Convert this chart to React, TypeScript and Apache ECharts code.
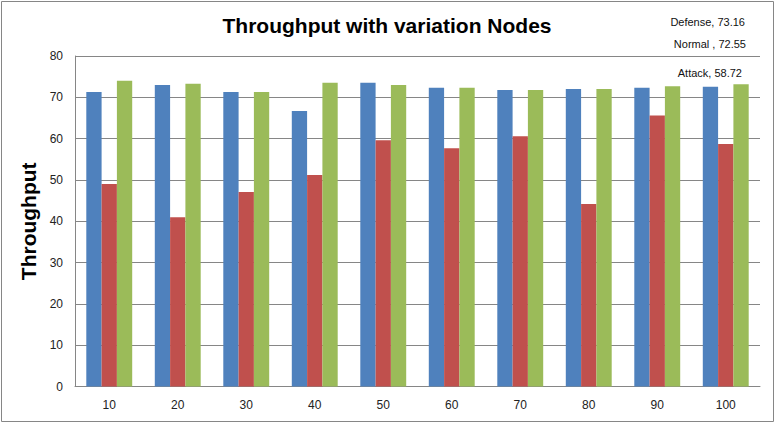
import React, { useEffect, useRef } from "react";
import * as echarts from "echarts";

const categories = ["10", "20", "30", "40", "50", "60", "70", "80", "90", "100"];
const normalValues = [71.3, 73.0, 71.3, 66.7, 73.5, 72.3, 71.8, 72.0, 72.3, 72.55];
const attackValues = [49.0, 41.0, 47.1, 51.2, 59.6, 57.7, 60.6, 44.2, 65.6, 58.72];
const defenseValues = [74.0, 73.3, 71.3, 73.5, 73.0, 72.3, 71.8, 72.0, 72.7, 73.16];
const yTicks = [0, 10, 20, 30, 40, 50, 60, 70, 80];

const title = "Throughput with variation Nodes";
const yName = "Throughput";

export default function App() {
  const ref = useRef<HTMLDivElement>(null);
  useEffect(() => {
    if (!ref.current) return;
    const chart = echarts.init(ref.current, null, { renderer: "svg" });
    const last = (a: number[]) => a[a.length - 1].toFixed(2);
    const labelFont = { fontFamily: "Liberation Sans, Arial, sans-serif", fontSize: 11, fill: "#111" };
    chart.setOption({
      animation: false,
      backgroundColor: "#fff",
      grid: { left: 75, top: 56, right: 23, bottom: 53.4, containLabel: false },
      xAxis: {
        type: "category",
        data: categories,
        axisLine: { lineStyle: { color: "#868686" } },
        axisTick: { show: false },
        axisLabel: { color: "#222", fontSize: 12, margin: 12, fontFamily: "Liberation Sans, Arial, sans-serif" },
      },
      yAxis: {
        type: "value",
        min: yTicks[0],
        max: yTicks[yTicks.length - 1],
        interval: 10,
        name: yName,
        nameLocation: "middle",
        nameGap: 30,
        nameTextStyle: { fontSize: 21, fontWeight: "bold", color: "#000", fontFamily: "Liberation Sans, Arial, sans-serif" },
        axisLine: { show: true, lineStyle: { color: "#868686" } },
        axisTick: { show: false },
        axisLabel: { color: "#222", fontSize: 12, margin: 12, fontFamily: "Liberation Sans, Arial, sans-serif" },
        splitLine: { lineStyle: { color: "#868686", width: 1 } },
      },
      series: [
        { name: "Normal", type: "bar", data: normalValues, barWidth: 15.3, barGap: "0%", itemStyle: { color: "#4F81BD" } },
        { name: "Attack", type: "bar", data: attackValues, barWidth: 15.3, barGap: "0%", itemStyle: { color: "#C0504D" } },
        { name: "Defense", type: "bar", data: defenseValues, barWidth: 15.3, barGap: "0%", itemStyle: { color: "#9BBB59" } },
      ],
      graphic: [
        { type: "rect", shape: { x: 1.5, y: 1.5, width: 772, height: 420 }, style: { fill: "none", stroke: "#868686", lineWidth: 1 }, silent: true },
        {
          type: "text", x: 387, y: 25,
          style: { text: title, textAlign: "center", textVerticalAlign: "middle", fontSize: 21, fontWeight: "bold", fill: "#000", fontFamily: "Liberation Sans, Arial, sans-serif" },
        },
        { type: "text", x: 745, y: 22, style: { ...labelFont, text: "Defense, " + last(defenseValues), textAlign: "right", textVerticalAlign: "middle" } },
        { type: "text", x: 746, y: 44, style: { ...labelFont, text: "Normal , " + last(normalValues), textAlign: "right", textVerticalAlign: "middle" } },
        { type: "text", x: 742, y: 73, style: { ...labelFont, text: "Attack, " + last(attackValues), textAlign: "right", textVerticalAlign: "middle" } },
      ],
    });
    return () => chart.dispose();
  }, []);
  return <div ref={ref} style={{ position: "fixed", left: 0, top: 0, width: 783, height: 440 }} />;
}
